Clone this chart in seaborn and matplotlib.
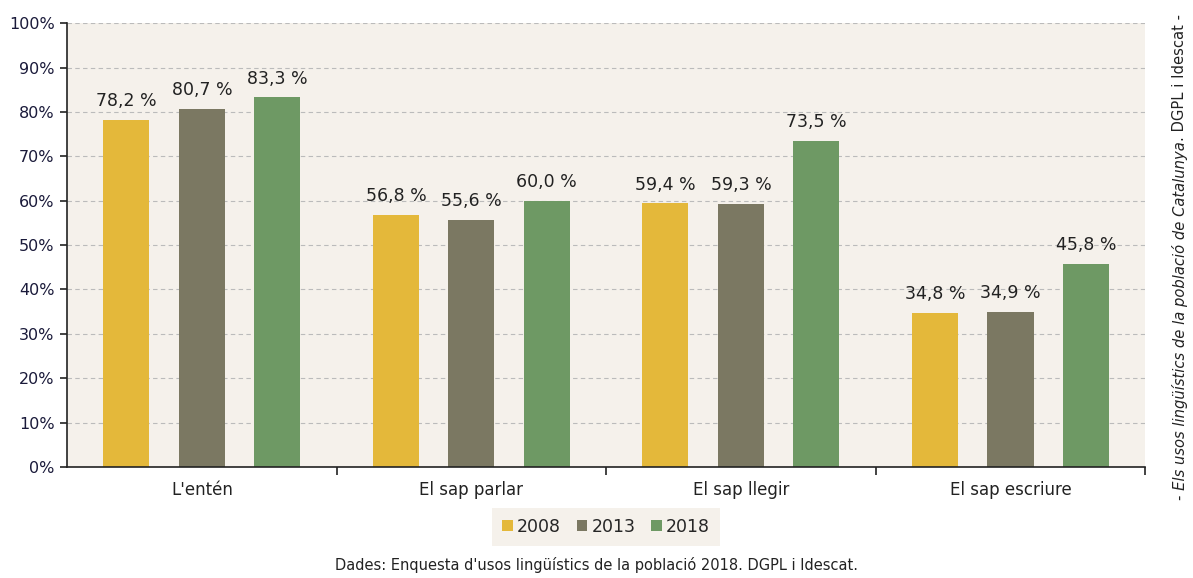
import matplotlib
matplotlib.use("Agg")
import matplotlib.pyplot as plt
import seaborn as sns
import pandas as pd
from matplotlib.ticker import FixedLocator, PercentFormatter

categories = ["L'entén", "El sap parlar", "El sap llegir", "El sap escriure"]
years = ["2008", "2013", "2018"]
v2008 = [78.2, 56.8, 59.4, 34.8]
v2013 = [80.7, 55.6, 59.3, 34.9]
v2018 = [83.3, 60.0, 73.5, 45.8]
colors = ["#E4B83A", "#7B7862", "#6E9964"]

rows = []
for y, vals in zip(years, [v2008, v2013, v2018]):
    for c, v in zip(categories, vals):
        rows.append({"cat": c, "year": y, "val": v})
df = pd.DataFrame(rows)

sns.set_theme(style="white")
plt.rcParams['font.family'] = ['DejaVu Sans']

fig = plt.figure(figsize=(11.93, 5.78), dpi=100)
ax = fig.add_axes([0.0562, 0.192, 0.9038, 0.768])
ax.set_facecolor("#F5F1EB")

sns.barplot(data=df, x="cat", y="val", hue="year", palette=colors,
            width=0.84, gap=0.39, ax=ax, saturation=1, edgecolor="none")

for cont in ax.containers:
    labels = [f"{v:.1f} %".replace(".", ",") for v in cont.datavalues]
    ax.bar_label(cont, labels=labels, padding=7, fontsize=12.5, color="#222222")

ax.set_ylim(0, 100)
ax.set_xlim(-0.5, 3.5)
ax.yaxis.set_major_locator(FixedLocator(range(0, 101, 10)))
ax.yaxis.set_major_formatter(PercentFormatter(decimals=0))
ax.grid(axis="y", color="#BBBBBB", linestyle=(0, (4, 3)), linewidth=0.8)
ax.set_axisbelow(True)

for s in ["top", "right"]:
    ax.spines[s].set_visible(False)
for s in ["left", "bottom"]:
    ax.spines[s].set_color("#222222")
    ax.spines[s].set_linewidth(1.2)

ax.set_xlabel("")
ax.set_ylabel("")
ax.tick_params(axis="y", which="major", left=True, direction="out", length=5,
               width=1.2, color="#222222", labelsize=11.5, labelcolor="#1a1a3a", pad=4)
ax.tick_params(axis="x", which="major", bottom=False, length=0, labelsize=12,
               labelcolor="#222222", pad=10)
ax.set_xticks(range(len(categories)))
ax.set_xticklabels(categories)
ax.set_xticks([0.5, 1.5, 2.5, 3.5], minor=True)
ax.tick_params(axis="x", which="minor", bottom=True, direction="out", length=6,
               width=1.2, color="#222222")

leg = ax.legend(loc="upper center", bbox_to_anchor=(0.5, -0.072), ncol=3,
                frameon=True, fontsize=12.5, handlelength=0.6, handleheight=0.6,
                handletextpad=0.25, columnspacing=0.9, borderpad=0.6)
leg.get_frame().set_facecolor("#F5F1EB")
leg.get_frame().set_edgecolor("none")
leg.get_frame().set_alpha(1)
leg.get_frame().set_boxstyle("square", pad=0)

fig.text(0.5, 0.022, "Dades: Enquesta d'usos lingüístics de la població 2018. DGPL i Idescat.",
         ha="center", va="center", fontsize=10.5, color="#222222")

t1 = fig.text(0.989, 0.135, "- Els usos lingüístics de la població de Catalunya",
              rotation=90, ha="center", va="bottom", fontsize=10.6,
              style="italic", color="#222222")
fig.canvas.draw()
bb = t1.get_window_extent()
top_fig = bb.y1 / fig.bbox.height
fig.text(0.989, top_fig, ". DGPL i Idescat -", rotation=90, ha="center",
         va="bottom", fontsize=10.6, color="#222222")

fig.savefig("out.png", dpi=100, facecolor="white")
